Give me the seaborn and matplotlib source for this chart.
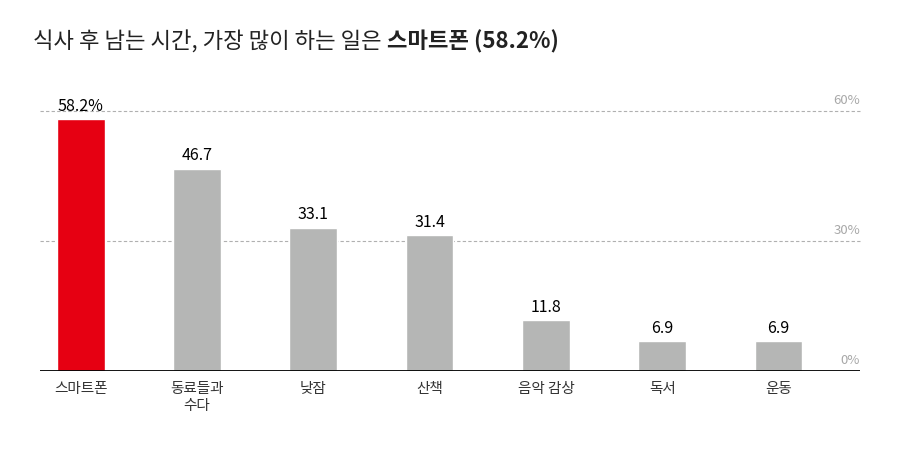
import matplotlib
matplotlib.use("Agg")
import matplotlib.pyplot as plt
from matplotlib.transforms import offset_copy
import seaborn as sns
import pandas as pd

# data
categories = ["스마트폰", "동료들과\n수다", "낮잠", "산책", "음악 감상", "독서", "운동"]
values = [58.2, 46.7, 33.1, 31.4, 11.8, 6.9, 6.9]
value_labels = ["58.2%", "46.7", "33.1", "31.4", "11.8", "6.9", "6.9"]
grid_ticks = [0, 30, 60]
grid_labels = ["0%", "30%", "60%"]

sns.set_style("white")
plt.rcParams['font.family'] = ['Noto Sans CJK KR', 'DejaVu Sans']

red = "#E60012"
gray = "#B5B6B5"
palette = [red] + [gray] * (len(categories) - 1)

df = pd.DataFrame({"item": categories, "pct": values})

fig = plt.figure(figsize=(9, 4.49), dpi=100)
fig.patch.set_facecolor("white")
ax = fig.add_axes([40 / 900, 78 / 449, 820 / 900, 260 / 449])

sns.barplot(data=df, x="item", y="pct", hue="item", palette=palette,
            legend=False, width=0.41, saturation=1, ax=ax)

ax.set_xlim(-0.35, 6.7)
ax.set_ylim(0, 60)

lab_trans = offset_copy(ax.get_yaxis_transform(), fig=fig, y=3, units="points")
for t, lab in zip(grid_ticks, grid_labels):
    if t > 0:
        ax.axhline(t, color="#b0b0b0", lw=0.8, ls=(0, (3, 2)), zorder=0, clip_on=False)
    ax.text(1.0, t, lab, transform=lab_trans, ha="right", va="bottom",
            fontsize=9.5, color="#a8a8a8")
ax.axhline(0, color="black", lw=1.3, zorder=3)

for container in ax.containers:
    for bar in container:
        idx = int(round(bar.get_x() + bar.get_width() / 2))
        ax.annotate(value_labels[idx], (bar.get_x() + bar.get_width() / 2, bar.get_height()),
                    xytext=(0, 3), textcoords="offset points", ha="center", va="bottom",
                    fontsize=11.5, color="black", annotation_clip=False)

for s in ax.spines.values():
    s.set_visible(False)
ax.set_yticks([])
ax.set_xlabel("")
ax.set_ylabel("")
ax.tick_params(axis="x", length=0, pad=8, labelsize=10.5, labelcolor="#333333")
for lab in ax.get_xticklabels():
    lab.set_linespacing(1.3)

t1 = fig.text(33 / 900, 1 - 42 / 449, "식사 후 남는 시간, 가장 많이 하는 일은 ",
              fontsize=16, color="#222222", va="center", ha="left")
ax.annotate("스마트폰 (58.2%)", xy=(1, 0.5), xycoords=t1, va="center", ha="left",
            fontsize=16, fontweight="bold", color="#222222")

fig.savefig("out.png", dpi=100, facecolor="white")
